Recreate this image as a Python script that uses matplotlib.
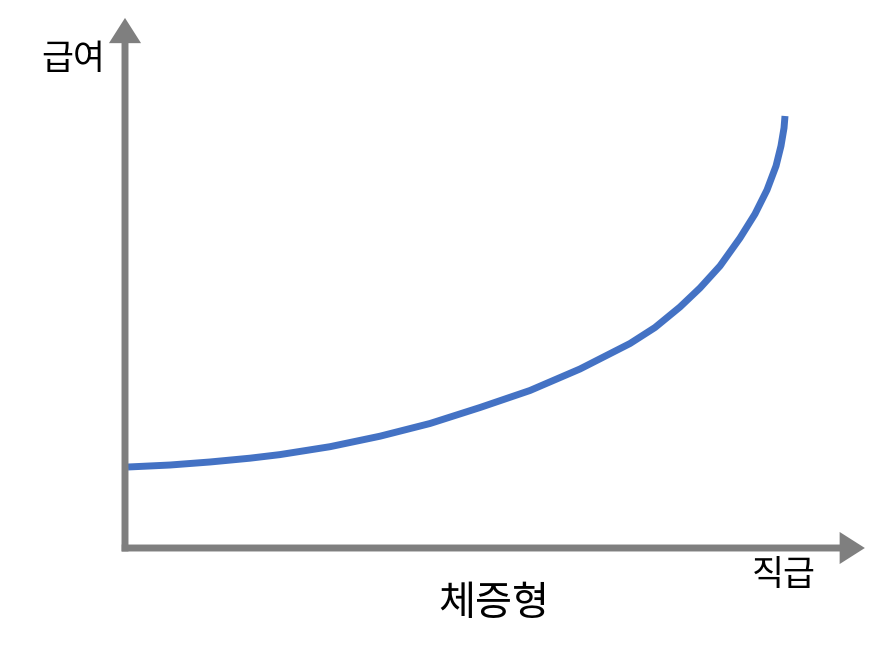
import matplotlib
matplotlib.use('Agg')
import matplotlib.pyplot as plt

plt.rcParams['font.family'] = ['Noto Sans CJK KR', 'DejaVu Sans']

# curve (직급 0..100, 급여 0..100)
rank = [0.45, 6.82, 12.88, 18.94, 23.48, 31.06, 38.64, 46.21, 53.79, 61.36,
        68.94, 76.52, 80.30, 84.09, 87.12, 90.15, 93.18, 95.45, 97.27, 98.64,
        99.39, 99.85, 100]
pay = [18.75, 19.21, 19.91, 20.79, 21.62, 23.45, 25.88, 28.82, 32.52, 36.46,
       41.44, 47.34, 51.04, 55.79, 60.19, 65.28, 71.76, 77.31, 82.87, 88.43,
       93.06, 97.22, 100]

x_label = '직급'
y_label = '급여'
title = '체증형'

fig = plt.figure(figsize=(8.85, 6.52), dpi=100)
ax = fig.add_axes([125/885, 104/652, 660/885, 432/652])
ax.set_xlim(0, 100)
ax.set_ylim(0, 100)
ax.axis('off')

gray = '#7f7f7f'
arrow = dict(arrowstyle='-|>,head_length=11,head_width=7', color=gray,
             lw=5, mutation_scale=1, shrinkA=0, shrinkB=0,
             capstyle='butt', joinstyle='miter')
ax.annotate('', xy=(112.1, 0), xytext=(-0.5, 0), arrowprops=arrow,
            annotation_clip=False)
ax.annotate('', xy=(0, 122.7), xytext=(0, -0.8), arrowprops=arrow,
            annotation_clip=False)

ax.plot(rank, pay, color='#4472C4', lw=5, solid_capstyle='butt',
        solid_joinstyle='round', clip_on=False)

fig.text(73/885, 1 - 60/652, y_label, fontsize=25, ha='center', va='center')
fig.text(784/885, 1 - 576/652, x_label, fontsize=25, ha='center', va='center')
fig.text(494/885, 1 - 604/652, title, fontsize=29, ha='center', va='center')

fig.savefig('out.png', dpi=100)
